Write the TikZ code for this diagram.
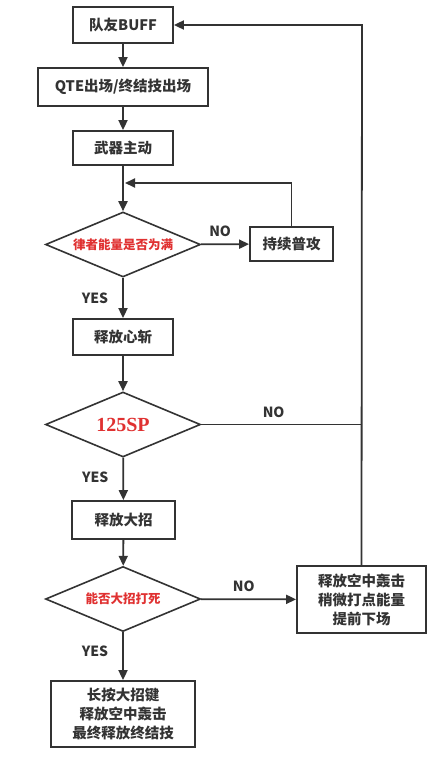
\documentclass[tikz,border=0pt]{standalone}
\usepackage{fontspec}
\newfontfamily\cjk{Noto Sans CJK SC}
\newfontfamily\serifb{Liberation Serif}
\usetikzlibrary{shapes.geometric,arrows.meta}
\definecolor{ink}{HTML}{333333}
\definecolor{redt}{HTML}{E03131}
\tikzset{
  box/.style={draw=ink, line width=1.8pt, fill=white, text=ink, inner sep=0pt, align=center,
    font=\cjk\bfseries\fontsize{14.5}{19}\selectfont},
  dia/.style={diamond, draw=ink, line width=1.6pt, fill=white, inner sep=0pt, aspect=2.4,
    minimum width=155pt, minimum height=65pt},
  conn/.style={draw=ink, line width=1.8pt},
  arr/.style={conn, -{Triangle[length=10pt,width=9pt]}},
  lbl/.style={text=ink, font=\cjk\bfseries\fontsize{14}{16}\selectfont, inner sep=0pt}
}
\begin{document}
\begin{tikzpicture}[x=1pt,y=-1pt]
\useasboundingbox[fill=white] (0,0) rectangle (427,761);
\node[box, minimum width=100pt, minimum height=36pt] (b1) at (123,25) {队友BUFF};
\node[box, minimum width=170pt, minimum height=38pt] (b2) at (123,87) {QTE出场/终结技出场};
\node[box, minimum width=100pt, minimum height=34pt] (b3) at (123,148) {武器主动};
\node[dia, text=redt, font=\cjk\bfseries\fontsize{12.5}{15}\selectfont] (d1) at (123,244.5) {律者能量是否为满};
\node[box, minimum width=83pt, minimum height=34pt] (b4) at (291.5,244) {持续普攻};
\node[box, minimum width=100pt, minimum height=36pt] (b5) at (123,337) {释放心斩};
\node[dia, text=redt, font=\serifb\bfseries\fontsize{20}{22}\selectfont] (d2) at (123,424.5) {125SP};
\node[box, minimum width=103pt, minimum height=38pt] (b6) at (123.5,520) {释放大招};
\node[dia, text=redt, font=\cjk\bfseries\fontsize{12.5}{15}\selectfont] (d3) at (123,599) {能否大招打死};
\node[box, minimum width=129pt, minimum height=67pt] (b7) at (361.5,599.5) {释放空中轰击\\稍微打点能量\\提前下场};
\node[box, minimum width=144pt, minimum height=66pt] (b8) at (123,714) {长按大招键\\释放空中轰击\\最终释放终结技};
\coordinate (j1) at (125,183);
\coordinate (j2) at (362,424.5);
\coordinate (j3) at (362,25);
\draw[arr] (b1) -- (b2);
\draw[arr] (b2) -- (b3);
\draw[arr] (b3) -- (d1);
\draw[arr] (b4.north) |- (j1);
\draw[arr] (d1) -- (b4) node[lbl, pos=0.4, above=7pt] {NO};
\draw[arr] (d1) -- (b5) node[lbl, pos=0.5, left=14pt] {YES};
\draw[arr] (b5) -- (d2);
\draw[conn, line width=1.4pt] (d2.east) -- (j2) node[lbl, pos=0.45, above=6pt] {NO};
\draw[arr] (d2) -- (b6) node[lbl, pos=0.45, left=14pt] {YES};
\draw[arr] (b6) -- (d3);
\draw[arr] (d3) -- (b7) node[lbl, pos=0.45, above=7pt] {NO};
\draw[arr] (d3) -- (b8) node[lbl, pos=0.4, left=14pt] {YES};
\draw[arr] (b7.north) -- (j3) -- (b1.east);
\end{tikzpicture}
\end{document}
